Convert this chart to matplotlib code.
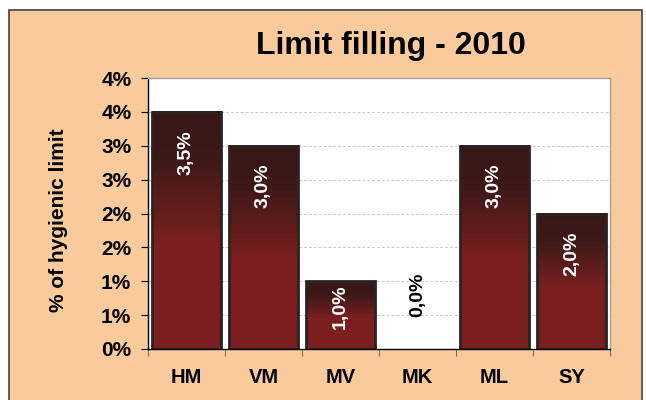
import matplotlib
matplotlib.use('Agg')
import matplotlib.pyplot as plt
import matplotlib.patches as patches
import numpy as np
from matplotlib.colors import LinearSegmentedColormap
from matplotlib.ticker import FuncFormatter, MultipleLocator

# data
sites = ['HM', 'VM', 'MV', 'MK', 'ML', 'SY']
filling = [3.5, 3.0, 1.0, 0.0, 3.0, 2.0]   # % of hygienic limit
labels = ['3,5%', '3,0%', '1,0%', '0,0%', '3,0%', '2,0%']

plt.rcParams['font.family'] = ['Liberation Sans', 'DejaVu Sans']
plt.rcParams['font.weight'] = 'bold'

peach = '#F9CB9C'
fig = plt.figure(figsize=(6.46, 4.0), dpi=100, facecolor='white')

# peach panel with dark frame
fig.patches.append(patches.Rectangle((9 / 646, -0.05), 633 / 646, 1.05 - 10 / 400,
                                     transform=fig.transFigure, facecolor=peach,
                                     edgecolor='#4a4040', linewidth=1.2, zorder=-5))

ax = fig.add_axes([148 / 646, 51 / 400, 462 / 646, 271 / 400])
ax.set_facecolor('white')

# bar gradient: red lower part, dark brown top
cmap = LinearSegmentedColormap.from_list('bar', [(0, '#7c1e1f'), (0.45, '#7a1f20'),
                                                 (0.8, '#3d1918'), (1, '#371716')])
grad = np.linspace(0, 1, 200).reshape(-1, 1)

x = np.arange(len(sites))
w = 0.9
for xi, h in zip(x, filling):
    if h <= 0:
        continue
    ax.imshow(grad, cmap=cmap, origin='lower', aspect='auto',
              extent=[xi - w / 2, xi + w / 2, 0, h], zorder=2)
    ax.add_patch(patches.Rectangle((xi - w / 2, 0), w, h, facecolor='none',
                                   edgecolor='#2b2222', linewidth=2, zorder=3))

# value labels, short bars get their label pushed up to the top
for xi, h, lab in zip(x, filling, labels):
    if h > 0:
        off = -13 if h >= 1.5 else -2
        ax.annotate(lab, (xi, h), xytext=(0, off), textcoords='offset points',
                    rotation=90, ha='center', va='top', color='white',
                    fontsize=14, fontweight='bold', zorder=4)
    else:
        ax.annotate(lab, (xi, h), xytext=(0, 23), textcoords='offset points',
                    rotation=90, ha='center', va='bottom', color='black',
                    fontsize=14, fontweight='bold', zorder=4)

ax.set_xlim(-0.5, len(sites) - 0.5)
ax.set_ylim(0, 4)
ax.yaxis.set_major_locator(MultipleLocator(0.5))
ax.yaxis.set_major_formatter(FuncFormatter(lambda v, p: '%d%%' % int(v + 0.5)))
ax.set_xticks(x)
ax.set_xticklabels(sites)
ax.set_xticks(np.arange(-0.5, len(sites)), minor=True)
ax.tick_params(axis='x', which='major', length=0, pad=14, labelsize=14.5)
ax.tick_params(axis='x', which='minor', length=5, color='#555555', direction='out')
ax.tick_params(axis='y', length=5, labelsize=15, pad=7)
for t in ax.get_xticklabels() + ax.get_yticklabels():
    t.set_fontweight('bold')

ax.grid(axis='y', linestyle=(0, (3, 2)), color='#c8c8c8', linewidth=0.7, zorder=1)
ax.set_axisbelow(True)
for s in ['top', 'right']:
    ax.spines[s].set_color('#a0a0a0')
    ax.spines[s].set_linewidth(1)
for s in ['left', 'bottom']:
    ax.spines[s].set_color('black')
    ax.spines[s].set_linewidth(1)

ax.set_ylabel('% of hygienic limit', fontsize=15, fontweight='bold')
ax.yaxis.set_label_coords(-0.173, 0.476)
fig.text(391 / 646, 1 - 46 / 400, 'Limit filling - 2010', ha='center', va='center',
         fontsize=23, fontweight='bold')

fig.savefig('out.png', dpi=100, facecolor='white')
